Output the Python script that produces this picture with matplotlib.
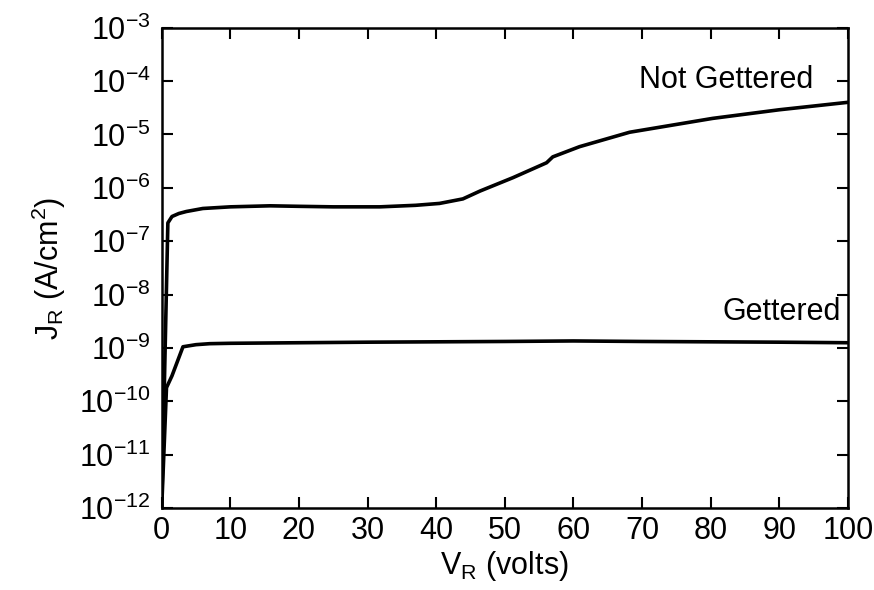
import numpy as np
import matplotlib
matplotlib.use("Agg")
import matplotlib.pyplot as plt

plt.rcParams['font.family'] = ['Liberation Sans', 'DejaVu Sans']
plt.rcParams['mathtext.fontset'] = 'custom'
plt.rcParams['mathtext.rm'] = 'Liberation Sans'
plt.rcParams['mathtext.it'] = 'Liberation Sans'
plt.rcParams['mathtext.bf'] = 'Liberation Sans:bold'

# reverse voltage (V) and current density (A/cm^2)
v_not = [0.0, 0.9, 1.5, 2.5, 3.6, 6, 10, 15.8, 20, 25, 31.8, 37, 40.5,
         43.9, 46.4, 51.2, 56.1, 57, 60.9, 68.2, 80.3, 90, 100]
j_not = [1e-12, 2.2e-7, 2.9e-7, 3.3e-7, 3.6e-7, 4.1e-7, 4.4e-7, 4.6e-7,
         4.5e-7, 4.4e-7, 4.4e-7, 4.7e-7, 5.1e-7, 6.2e-7, 8.7e-7,
         1.55e-6, 2.95e-6, 3.8e-6, 5.9e-6, 1.1e-5, 2.0e-5, 2.9e-5, 4.0e-5]

v_get = [0.0, 0.7, 1.5, 3.1, 5, 7, 10, 20, 30, 40, 50, 60, 70, 80, 90, 100]
j_get = [1e-12, 1.8e-10, 3.0e-10, 1.05e-9, 1.15e-9, 1.2e-9, 1.22e-9, 1.25e-9,
         1.28e-9, 1.3e-9, 1.32e-9, 1.35e-9, 1.32e-9, 1.3e-9, 1.28e-9, 1.25e-9]

fig = plt.figure(figsize=(8.74, 5.9), dpi=100)
ax = fig.add_axes([0.185, 0.139, 0.785, 0.814])

ax.plot(v_not, j_not, color='black', lw=2.6, solid_joinstyle='round')
ax.plot(v_get, j_get, color='black', lw=2.6, solid_joinstyle='round')

ax.set_yscale('log')
ax.set_xlim(0, 100)
ax.set_ylim(1e-12, 1e-3)
ax.set_xticks(np.arange(0, 101, 10))
ax.set_yticks([10.0 ** e for e in range(-12, -2)])
ax.minorticks_off()
ax.tick_params(which='both', direction='in', length=8, width=1.5,
               top=True, right=True, labelsize=22)
ax.tick_params(axis='x', pad=6)
ax.tick_params(axis='y', pad=8)
for s in ax.spines.values():
    s.set_linewidth(1.8)

ax.set_xlabel(r'V$_\mathrm{R}$ (volts)', fontsize=22, labelpad=2)
ax.set_ylabel(r'J$_\mathrm{R}$ (A/cm$^2$)', fontsize=22, labelpad=8)

ax.text(95, 1.05e-4, 'Not Gettered', fontsize=22, ha='right', va='center')
ax.text(99, 4.8e-9, 'Gettered', fontsize=22, ha='right', va='center')

fig.savefig('out.png', dpi=100)
